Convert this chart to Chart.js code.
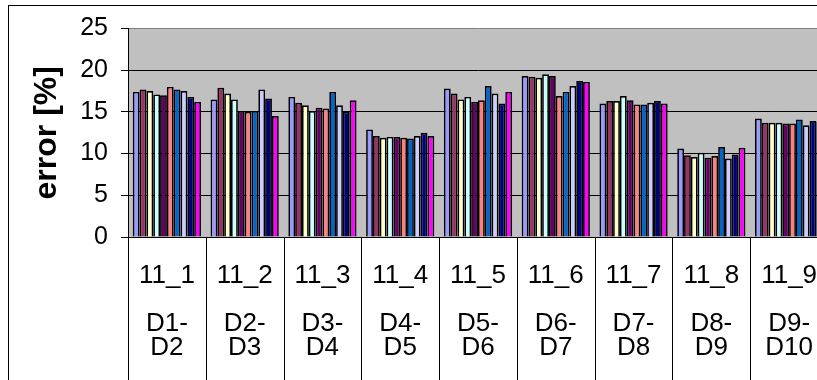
<!DOCTYPE html>
<html>
<head>
<meta charset="utf-8">
<script src="https://cdn.jsdelivr.net/npm/chart.js@4/dist/chart.umd.min.js"></script>
<style>
  html, body { margin: 0; padding: 0; background: #fff; overflow: hidden; }
  #wrap { width: 840px; height: 380px; }
</style>
</head>
<body>
<div id="wrap"><canvas id="c" width="840" height="380"></canvas></div>
<script>
// Category labels: run code on the first line, depth pair underneath
const groupCodes = ['11_1', '11_2', '11_3', '11_4', '11_5', '11_6', '11_7', '11_8', '11_9'];
const depthPairs = [
  ['D1-', 'D2'], ['D2-', 'D3'], ['D3-', 'D4'], ['D4-', 'D5'], ['D5-', 'D6'],
  ['D6-', 'D7'], ['D7-', 'D8'], ['D8-', 'D9'], ['D9-', 'D10']
];
const yTicks = [0, 5, 10, 15, 20, 25];

// error [%] per series, one value per category
const s1  = [17.4, 16.5, 16.8, 12.9, 17.8, 19.3, 16.0, 10.6, 14.2];
const s2  = [17.7, 17.9, 16.1, 12.1, 17.2, 19.2, 16.3,  9.8, 13.7];
const s3  = [17.5, 17.2, 15.8, 11.9, 16.5, 19.1, 16.3,  9.6, 13.7];
const s4  = [17.1, 16.5, 15.1, 12.0, 16.8, 19.5, 16.9, 10.1, 13.7];
const s5  = [17.0, 15.1, 15.5, 12.0, 16.2, 19.3, 16.4,  9.5, 13.6];
const s6  = [18.0, 15.0, 15.4, 11.9, 16.4, 16.9, 15.9,  9.7, 13.6];
const s7  = [17.7, 15.1, 17.4, 11.8, 18.1, 17.4, 15.9, 10.8, 14.1];
const s8  = [17.5, 17.7, 15.8, 12.1, 17.2, 18.1, 16.1,  9.4, 13.4];
const s9  = [16.8, 16.6, 15.0, 12.5, 16.0, 18.7, 16.3,  9.9, 13.9];
const s10 = [16.2, 14.5, 16.4, 12.1, 17.4, 18.6, 16.0, 10.7, 13.8];

const seriesValues = [s1, s2, s3, s4, s5, s6, s7, s8, s9, s10];
const seriesColors = ['#9999FF', '#993366', '#FFFFCC', '#CCFFFF', '#660066',
                      '#FF8080', '#0066CC', '#CCCCFF', '#000080', '#FF00FF'];

const labels = groupCodes.map((g, i) => [g, '', depthPairs[i][0], depthPairs[i][1]]);

const FONT = "'Liberation Sans', Arial, sans-serif";

// Grey plot background, outer frame and the category separators below the axis
const framePlugin = {
  id: 'frame',
  beforeDraw(chart) {
    const { ctx, chartArea: a } = chart;
    ctx.save();
    ctx.fillStyle = '#ffffff';
    ctx.fillRect(0, 0, chart.width, chart.height);
    ctx.fillStyle = '#C0C0C0';
    ctx.fillRect(a.left, a.top, a.right - a.left, a.bottom - a.top);
    ctx.strokeStyle = '#000';
    ctx.lineWidth = 1;
    ctx.strokeRect(8.5, 5.5, chart.width + 40, chart.height + 40);
    ctx.restore();
  },
  afterDraw(chart) {
    const { ctx, chartArea: a } = chart;
    const xs = chart.scales.x;
    const n = groupCodes.length;
    const half = (xs.getPixelForValue(1) - xs.getPixelForValue(0)) / 2;
    ctx.save();
    ctx.strokeStyle = '#000';
    ctx.lineWidth = 1;
    ctx.beginPath();
    for (let i = 0; i <= n; i++) {
      const px = i < n ? xs.getPixelForValue(i) - half : xs.getPixelForValue(n - 1) + half;
      const x = Math.round(px) + 0.5;
      ctx.moveTo(x, a.bottom);
      ctx.lineTo(x, chart.height);
    }
    ctx.stroke();
    ctx.restore();
  }
};

new Chart(document.getElementById('c'), {
  type: 'bar',
  data: {
    labels: labels,
    datasets: seriesValues.map((vals, i) => ({
      label: 'series ' + (i + 1),
      data: vals,
      backgroundColor: seriesColors[i],
      borderColor: '#000',
      borderWidth: 1.7,
      categoryPercentage: 0.877,
      barPercentage: 1.0
    }))
  },
  options: {
    responsive: false,
    animation: false,
    layout: { padding: { left: 8, top: 28.5, right: 12, bottom: 0 } },
    plugins: { legend: { display: false }, tooltip: { enabled: false } },
    scales: {
      x: {
        grid: { display: false },
        border: { display: true, color: '#000', width: 1 },
        ticks: {
          color: '#000',
          font: { family: FONT, size: 26, lineHeight: '24px' },
          padding: 19,
          maxRotation: 0,
          autoSkip: false
        },
        afterFit(scale) { scale.height = 143; }
      },
      y: {
        min: 0,
        max: 25,
        afterBuildTicks(scale) { scale.ticks = yTicks.map(v => ({ value: v })); },
        grid: {
          color: (c) => (c.tick && c.tick.value === 25 ? '#808080' : '#000'),
          tickColor: '#000',
          tickLength: 7,
          lineWidth: 1
        },
        border: { display: true, color: '#000', width: 1 },
        ticks: {
          color: '#000',
          font: { family: FONT, size: 25 },
          padding: 13
        },
        title: {
          display: true,
          text: 'error [%]',
          color: '#000',
          font: { family: FONT, size: 32, weight: 'bold' },
          padding: { top: 20, bottom: 0 }
        },
        afterFit(scale) { scale.width = 120; }
      }
    }
  },
  plugins: [framePlugin]
});
</script>
</body>
</html>
